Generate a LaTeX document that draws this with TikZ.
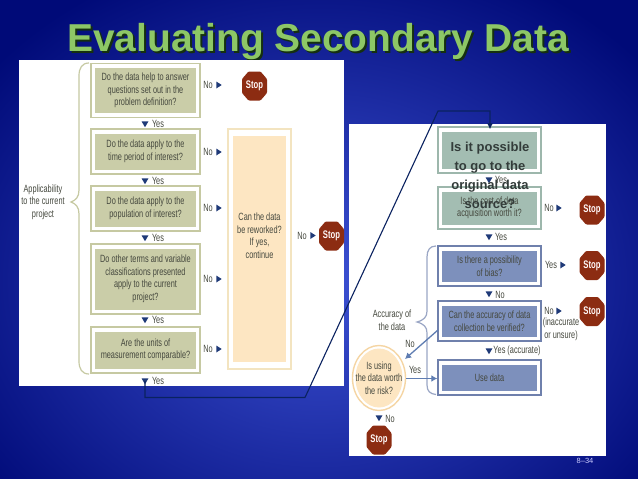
\documentclass[tikz,border=0pt]{standalone}
\usepackage{fontspec}
\setmainfont{Liberation Sans}
\newfontfamily\narrowfont[FakeStretch=0.7]{Liberation Sans}
\usetikzlibrary{arrows.meta,calc,shapes.geometric}
\definecolor{txtc}{HTML}{45483E}
\definecolor{navy}{HTML}{1F3A78}
\definecolor{olivef}{HTML}{CACDA8}
\definecolor{oliveb}{HTML}{C6C9A2}
\definecolor{tealf}{HTML}{A3BDB2}
\definecolor{tealb}{HTML}{9DB7AC}
\definecolor{bluef}{HTML}{7D90BC}
\definecolor{blueb}{HTML}{6F80AC}
\definecolor{peachf}{HTML}{FDE6C2}
\definecolor{peachb}{HTML}{F3E4C0}
\definecolor{stopc}{HTML}{8C2C12}
\definecolor{titlec}{HTML}{8DC766}
\definecolor{titles}{HTML}{15300F}
\definecolor{linec}{HTML}{0A2260}
\definecolor{arrc}{HTML}{5F7DB2}
\definecolor{ovc}{HTML}{333C3A}
\definecolor{bgin}{HTML}{3D52D4}
\definecolor{bgout}{HTML}{000A78}
\tikzset{
 x=1pt,y=-1pt,
 lab/.style={font=\narrowfont\fontsize{10.5}{12.5}\selectfont,text=txtc,align=center,inner sep=0pt},
 outerbox/.style={draw=#1,line width=1.4pt,fill=white,inner sep=0pt},
 innerbox/.style={fill=#1,inner sep=0pt,lab},
 stoptxt/.style={font=\narrowfont\bfseries\fontsize{11}{12}\selectfont,text=white!90!pink,inner sep=0pt},
 tri/.style={fill=navy},
 brace/.style={draw=#1,line width=1.2pt,fill=none},
}
\newcommand{\fbx}[8]{% name cx cy w h border fill text
 \node[outerbox=#6,minimum width=#4pt,minimum height=#5pt] (#1) at (#2,#3) {};
 \node[innerbox=#7,minimum width=#4pt-8pt,minimum height=#5pt-9pt] (#1in) at (#2,#3) {#8};
}
\newcommand{\stopsign}[3]{% name x y
 \fill[stopc,rounded corners=1pt,shift={(#2,#3)}] (-6,-14.5)--(6,-14.5)--(12.5,-7)--(12.5,7)--(6,14.5)--(-6,14.5)--(-12.5,7)--(-12.5,-7)--cycle;
 \node[stoptxt] (#1) at (#2,#3) {Stop};
}
\newcommand{\tright}[2]{\fill[tri,shift={(#1,#2)}] (-2.7,-3.5)--(2.7,0)--(-2.7,3.5)--cycle;}
\newcommand{\tdown}[2]{\fill[tri,shift={(#1,#2)}] (-3.5,-2.7)--(3.5,-2.7)--(0,3.2)--cycle;}
\begin{document}
\begin{tikzpicture}
\useasboundingbox (0,0) rectangle (638,479);
\begin{scope}
 \clip (0,0) rectangle (638,479);
 \shade[inner color=bgin,outer color=bgout] (-100,-60) rectangle (740,620);
\end{scope}
% title
\node[font=\bfseries\fontsize{38.9}{40}\selectfont,text=titles,inner sep=0pt,anchor=base] (titleshadow) at (320,53.5) {Evaluating Secondary Data};
\node[font=\bfseries\fontsize{38.9}{40}\selectfont,text=titlec,inner sep=0pt,anchor=base] (title) at (318,51.5) {Evaluating Secondary Data};
% panels
\fill[white] (19,60) rectangle (344,386);
\fill[white] (349,124) rectangle (605.5,456);
% left panel
\draw[brace=oliveb] (89,63) .. controls (82,63) and (79,68) .. (79,76) -- (79,190) .. controls (79,197) and (76,200) .. (71,202) .. controls (76,204) and (79,207) .. (79,214) -- (79,361) .. controls (79,369) and (82,374) .. (89,374);
\node[lab] (appl) at (43,202) {Applicability\\to the current\\project};
\fbx{l1}{145.5}{90.5}{109}{54}{oliveb}{olivef}{Do the data help to answer\\questions set out in the\\problem definition?}
\fbx{l2}{145.5}{151.5}{109}{45}{oliveb}{olivef}{Do the data apply to the\\time period of interest?}
\fbx{l3}{145.5}{208.5}{109}{45}{oliveb}{olivef}{Do the data apply to the\\population of interest?}
\fbx{l4}{145.5}{279}{109}{70}{oliveb}{olivef}{Do other terms and variable\\classifications presented\\apply to the current\\project?}
\fbx{l5}{145.5}{350}{109}{46}{oliveb}{olivef}{Are the units of\\measurement comparable?}
\node[draw=peachb,line width=1.4pt,fill=white,minimum width=63pt,minimum height=240pt,inner sep=0pt] (rew) at (259.5,249) {};
\node[fill=peachf,minimum width=53pt,minimum height=226pt,inner sep=0pt] (rewin) at (259.5,249) {};
\node[lab] (rewt) at (259.5,235.5) {Can the data\\be reworked?\\If yes,\\continue};
\foreach \n/\yy in {a/85,b/152,c/208,d/279,e/349}{
 \node[lab] (no\n) at (208,\yy) {No};
 \tright{219}{\yy}
}
\foreach \n/\yy in {a/124,b/181,c/238,d/320,e/381}{
 \tdown{145}{\yy}
 \node[lab] (yes\n) at (158,\yy) {Yes};
}
\stopsign{s1}{254.5}{86}
\node[lab] (nof) at (302,235.5) {No};
\tright{313}{235.5}
\stopsign{s2}{331.5}{236}
% right panel
\draw[brace=blueb!70] (436,246) .. controls (430,246) and (427,250) .. (427,257) -- (427,311) .. controls (427,317) and (424,320) .. (417,322) .. controls (424,324) and (427,327) .. (427,333) -- (427,385) .. controls (427,391) and (430,394) .. (436,394.5);
\fbx{ra}{489.5}{150}{103}{46}{tealb}{tealf}{}
\fbx{rb}{489.5}{208}{103}{42}{tealb}{tealf}{Is the cost of data\\acquisition worth it?}
\fbx{rc}{489.5}{266}{103}{40}{blueb}{bluef}{Is there a possibility\\of bias?}
\fbx{rd}{489.5}{321}{103}{40}{blueb}{bluef}{Can the accuracy of data\\collection be verified?}
\fbx{re}{489.5}{377.5}{103}{35}{blueb}{bluef}{Use data}
\tdown{489}{180}
\node[lab] (yr0) at (501,180) {Yes};
\node[lab] (nr1) at (549,208) {No};
\tright{559}{208}
\stopsign{s3}{592}{210}
\tdown{489}{237}
\node[lab] (yr1) at (501,237) {Yes};
\node[lab] (yr2) at (551,265) {Yes};
\tright{563}{265}
\stopsign{s4}{592}{265.5}
\tdown{489}{294}
\node[lab] (nr2) at (500,294.5) {No};
\node[lab] (nr3) at (549,311) {No};
\tright{559}{311}
\node[lab] (nr3b) at (561,329.5) {(inaccurate\\or unsure)};
\stopsign{s5}{592}{311.5}
\tdown{489}{351}
\node[lab] (yr3) at (517,351) {Yes (accurate)};
\node[lab] (acc) at (392,320) {Accuracy of\\the data};
\node[draw=peachb!85!orange,line width=1.4pt,fill=white,ellipse,minimum width=53pt,minimum height=65pt,inner sep=0pt] (risk) at (379,378) {};
\node[fill=peachf,ellipse,minimum width=47pt,minimum height=59pt,inner sep=0pt] (riskin) at (379,378) {};
\node[lab] (riskt) at (379,378) {Is using\\the data worth\\the risk?};
\node[lab] (nr4) at (410,344) {No};
\node[lab] (yr4) at (415,370) {Yes};
\coordinate (f1) at (438,330);
\coordinate (f2) at (405,359);
\coordinate (f3) at (406,378.5);
\draw[arrc,line width=1.3pt,-{Latex[length=6pt,width=7pt]}] (f1) -- (f2);
\draw[arrc,line width=1.3pt,-{Latex[length=6pt,width=7pt]}] (f3) -- (re.west |- f3);
\tdown{379}{418}
\node[lab] (nr5) at (390,419) {No};
\stopsign{s6}{379}{440}
\node[font=\fontsize{7.5}{9}\selectfont,text=white!80!blue,inner sep=0pt] (pg) at (585,461) {8–34};
% connector
\coordinate (c0) at (145,381);
\coordinate (c1) at (145,397.5);
\coordinate (c2) at (305,397.5);
\coordinate (c3) at (438,111);
\coordinate (c4) at (490,111);
\draw[linec,line width=1.1pt,-{Latex[length=6pt,width=6pt]},shorten >=-3pt] (c0) -- (c1) -- (c2) -- (c3) -- (c4) -- (ra.north -| c4);
% overlay text
\node[font=\bfseries\fontsize{13}{19}\selectfont,text=ovc,align=center,inner sep=0pt] (ov) at (490,175.5) {Is it possible\\to go to the\\original data\\source?};
\end{tikzpicture}
\end{document}
